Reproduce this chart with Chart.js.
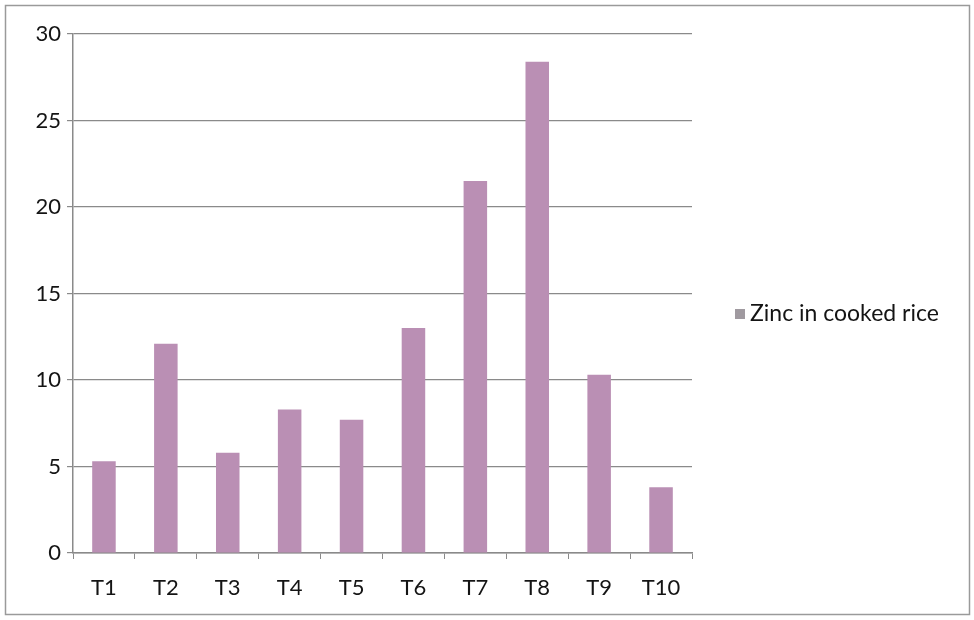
<!DOCTYPE html>
<html>
<head>
<meta charset="utf-8">
<script src="https://cdn.jsdelivr.net/npm/chart.js@4/dist/chart.umd.min.js"></script>
<style>
  html, body { margin: 0; padding: 0; background: #fff; }
  #wrap { width: 974px; height: 620px; position: relative; }
</style>
</head>
<body>
<div id="wrap"><canvas id="c" width="974" height="620"></canvas></div>
<script>
// Zinc content per treatment
const categories = ['T1', 'T2', 'T3', 'T4', 'T5', 'T6', 'T7', 'T8', 'T9', 'T10'];
const zincValues = [5.3, 12.1, 5.8, 8.3, 7.7, 13.0, 21.5, 28.4, 10.3, 3.8];
const seriesName = 'Zinc in cooked rice';
const yTicks = [0, 5, 10, 15, 20, 25, 30];

const FONT = 'Lato, "Open Sans", sans-serif';
const TEXT = '#141414';
const GRID = '#8a8a8a';

// Frame around the whole figure plus the legend on the right
const framePlugin = {
  id: 'frameAndLegend',
  afterDraw(chart) {
    const ctx = chart.ctx;
    ctx.save();
    ctx.strokeStyle = '#9a9a9a';
    ctx.lineWidth = 1.5;
    ctx.strokeRect(5.5, 5.5, 964, 609);

    const legendY = 314;
    ctx.font = '23px ' + FONT;
    ctx.fillStyle = '#a09aa0';
    ctx.fillRect(735, legendY - 5, 10, 10);
    ctx.fillStyle = TEXT;
    ctx.textBaseline = 'middle';
    ctx.textAlign = 'left';
    ctx.fillText(chart.data.datasets[0].label, 750, legendY);
    ctx.restore();
  }
};

new Chart(document.getElementById('c'), {
  type: 'bar',
  data: {
    labels: categories,
    datasets: [{
      label: seriesName,
      data: zincValues,
      backgroundColor: 'rgb(186,143,180)',
      borderWidth: 0,
      barPercentage: 0.38,
      categoryPercentage: 1.0
    }]
  },
  options: {
    responsive: false,
    animation: false,
    devicePixelRatio: 1,
    layout: { padding: { left: 0, top: 34, right: 282, bottom: 0 } },
    plugins: {
      legend: { display: false },
      tooltip: { enabled: false }
    },
    scales: {
      x: {
        offset: true,
        grid: {
          offset: true,
          drawOnChartArea: false,
          drawTicks: true,
          tickLength: 6,
          color: GRID
        },
        border: { color: GRID, width: 1.5 },
        ticks: {
          color: TEXT,
          font: { family: FONT, size: 22 },
          padding: 16,
          maxRotation: 0
        },
        afterFit(scale) { scale.height = 67; }
      },
      y: {
        min: 0,
        max: 30,
        afterBuildTicks(scale) { scale.ticks = yTicks.map(v => ({ value: v })); },
        grid: {
          color: GRID,
          lineWidth: 1.2,
          drawTicks: true,
          tickLength: 6
        },
        border: { color: GRID, width: 1.5 },
        ticks: {
          color: TEXT,
          font: { family: FONT, size: 22 },
          padding: 6
        },
        afterFit(scale) { scale.width = 73; }
      }
    }
  },
  plugins: [framePlugin]
});
</script>
</body>
</html>
